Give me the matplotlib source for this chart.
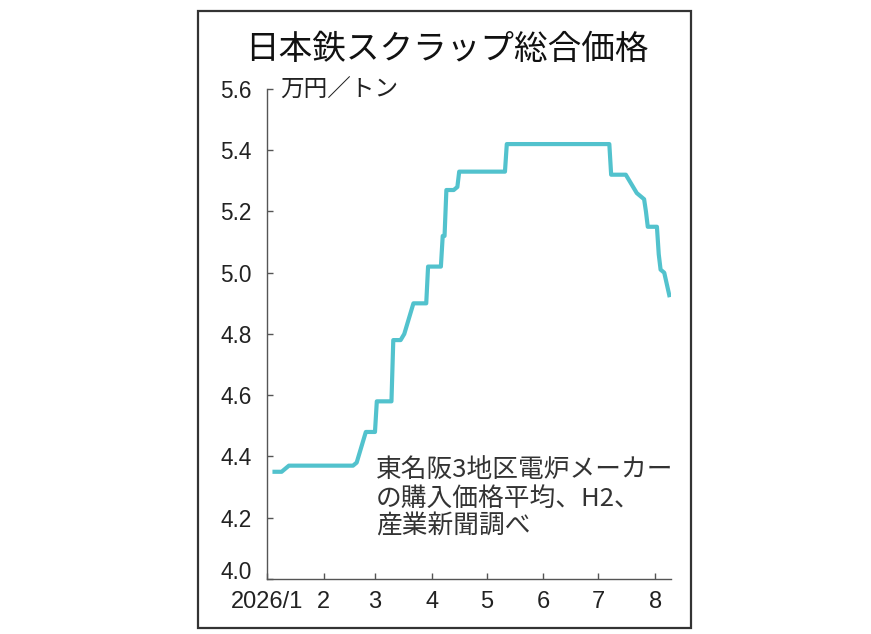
import matplotlib
matplotlib.use("Agg")
import matplotlib.pyplot as plt
from matplotlib.patches import Rectangle
import pandas as pd

plt.rcParams['font.family'] = ['Noto Sans CJK JP', 'DejaVu Sans']

title = '日本鉄スクラップ総合価格'
unit_label = '万円／トン'
note = '東名阪3地区電炉メーカー\nの購入価格平均、H2、\n産業新聞調べ'

# (万円/トン)
dates = ['2026-01-04', '2026-01-09', '2026-01-13', '2026-02-17', '2026-02-19',
         '2026-02-24', '2026-03-01', '2026-03-02', '2026-03-10', '2026-03-11',
         '2026-03-15', '2026-03-17', '2026-03-22', '2026-03-29', '2026-03-30',
         '2026-04-06', '2026-04-07', '2026-04-08', '2026-04-09', '2026-04-13',
         '2026-04-15', '2026-04-16', '2026-05-11', '2026-05-12', '2026-07-07',
         '2026-07-08', '2026-07-16', '2026-07-18', '2026-07-21', '2026-07-22',
         '2026-07-26', '2026-07-27', '2026-07-28', '2026-08-02', '2026-08-03',
         '2026-08-04', '2026-08-06', '2026-08-09']
prices = [4.35, 4.35, 4.37, 4.37, 4.38,
          4.48, 4.48, 4.58, 4.58, 4.78,
          4.78, 4.80, 4.90, 4.90, 5.02,
          5.02, 5.12, 5.12, 5.27, 5.27,
          5.28, 5.33, 5.33, 5.42, 5.42,
          5.32, 5.32, 5.30, 5.27, 5.26,
          5.24, 5.20, 5.15, 5.15, 5.06,
          5.01, 5.00, 4.92]

month_ticks = ['2026-01-01', '2026-02-01', '2026-03-01', '2026-04-01',
               '2026-05-01', '2026-06-01', '2026-07-01', '2026-08-01']
month_labels = ['2026/1', '2', '3', '4', '5', '6', '7', '8']
y_ticks = [4.0, 4.2, 4.4, 4.6, 4.8, 5.0, 5.2, 5.4, 5.6]

x = pd.to_datetime(dates)
xt = pd.to_datetime(month_ticks)

fig = plt.figure(figsize=(8.71, 6.34), dpi=100)
ax = fig.add_axes([0.3065, 0.0868, 0.4639, 0.7729])

ax.plot(x, prices, color='#52C2CD', linewidth=3.0, solid_capstyle='butt',
        solid_joinstyle='round')

ax.set_ylim(4.0, 5.6)
ax.set_xlim(xt[0], xt[-1] + pd.Timedelta(days=8.7))
ax.set_yticks(y_ticks)
ylabs = ax.set_yticklabels([f'{v:.1f}' for v in y_ticks], family=['Liberation Sans'],
                           fontsize=16.3)
ylabs[0].set_va('baseline')  # 4.0 sits on the x axis line
ax.set_xticks(xt)
ax.set_xticklabels(month_labels, family=['Liberation Sans'], fontsize=17)

for s in ['top', 'right']:
    ax.spines[s].set_visible(False)
for s in ['left', 'bottom']:
    ax.spines[s].set_color('#555555')
    ax.spines[s].set_linewidth(1.0)
ax.tick_params(axis='both', direction='in', length=4, width=1.0, color='#555555',
               labelcolor='#222222')
ax.tick_params(axis='y', pad=11)
ax.tick_params(axis='x', pad=9)

ax.text(0.27, 0.248, note, transform=ax.transAxes, fontsize=18.5, va='top',
        ha='left', color='#333333', linespacing=1.11)

fig.text(0.5126, 0.9227, title, fontsize=24.2, ha='center', va='center', color='#111111')
fig.text(280 / 871, 1 - 90 / 634, unit_label, fontsize=17, ha='left', va='center',
         color='#222222')

fig.patches.append(Rectangle((198 / 871, 1 - 628 / 634), (691 - 198) / 871,
                             (628 - 11) / 634, transform=fig.transFigure,
                             fill=False, edgecolor='#333333', linewidth=1.6))

fig.savefig('out.png', dpi=100)
